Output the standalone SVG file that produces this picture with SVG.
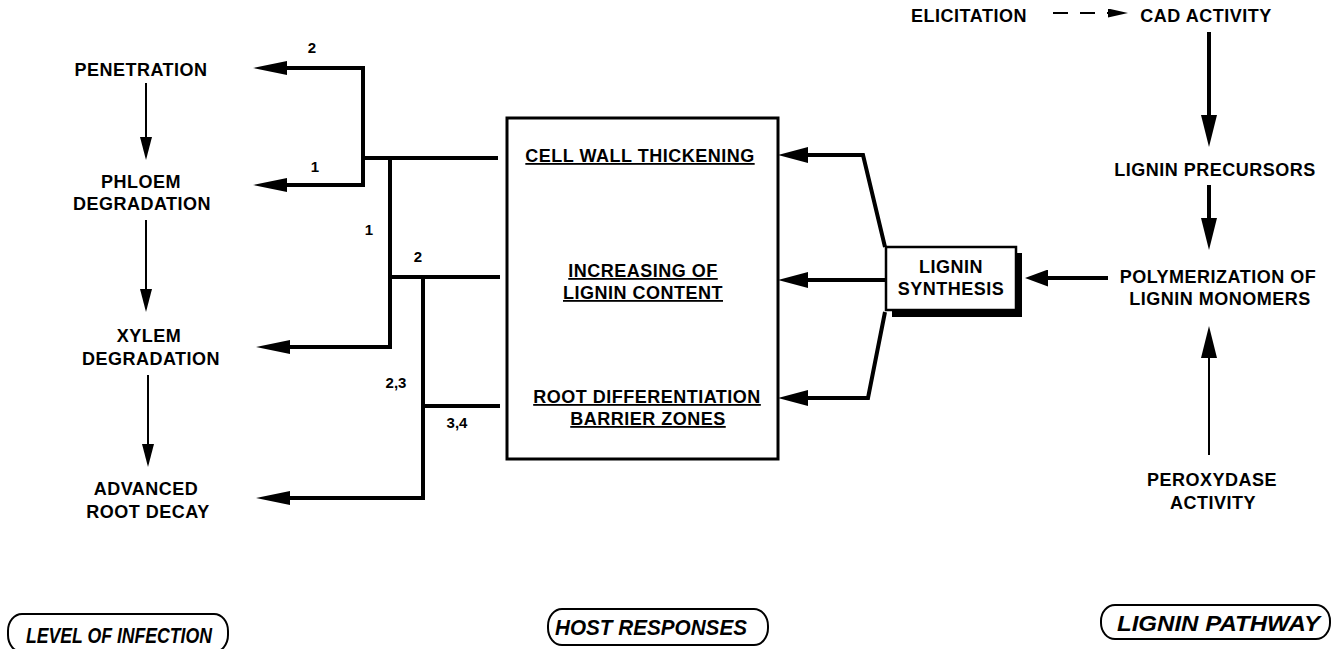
<svg xmlns="http://www.w3.org/2000/svg" width="1333" height="649" viewBox="0 0 1333 649">
<style>
  text { font-family: "Liberation Sans", Arial, Helvetica, sans-serif; font-weight: bold; fill: #000; }
  .lbl { font-size: 18px; letter-spacing: 0.5px; text-anchor: middle; }
  .num { font-size: 15px; text-anchor: middle; }
  .ul { text-decoration: underline; }
  .tag { font-size: 22px; font-style: italic; }
  .thick { fill: none; stroke: #000; stroke-width: 4; }
  .thin { fill: none; stroke: #000; stroke-width: 2; }
  .pill { fill: #fff; stroke: #000; stroke-width: 2; }
</style>
<defs>
  <marker id="ahL" markerUnits="userSpaceOnUse" viewBox="0 0 34 14" markerWidth="34" markerHeight="14" refX="0" refY="7" orient="auto-start-reverse">
    <path d="M0,0 L34,7 L0,14 Z" fill="#000"/>
  </marker>
  <marker id="ahR" markerUnits="userSpaceOnUse" viewBox="0 0 30 16" markerWidth="30" markerHeight="16" refX="0" refY="8" orient="auto">
    <path d="M0,0 L30,8 L0,16 Z" fill="#000"/>
  </marker>
  <marker id="ahM" markerUnits="userSpaceOnUse" viewBox="0 0 23 17" markerWidth="23" markerHeight="17" refX="0" refY="8.5" orient="auto">
    <path d="M0,0 L23,8.5 L0,17 Z" fill="#000"/>
  </marker>
  <marker id="ahV" markerUnits="userSpaceOnUse" viewBox="0 0 32 16" markerWidth="32" markerHeight="16" refX="0" refY="8" orient="auto">
    <path d="M0,0 L32,8 L0,16 Z" fill="#000"/>
  </marker>
  <marker id="ahT" markerUnits="userSpaceOnUse" viewBox="0 0 23 12" markerWidth="23" markerHeight="12" refX="0" refY="6" orient="auto">
    <path d="M0,0 L23,6 L0,12 Z" fill="#000"/>
  </marker>
  <marker id="ahD" markerUnits="userSpaceOnUse" viewBox="0 0 20 9" markerWidth="20" markerHeight="9" refX="0" refY="4.5" orient="auto">
    <path d="M0,0 L20,4.5 L0,9 Z" fill="#000"/>
  </marker>
</defs>
<rect width="1333" height="649" fill="#fff"/>

<!-- Level of infection -->
<g id="penetration"><text class="lbl" x="141" y="76">PENETRATION</text></g>
<g id="phloem"><text class="lbl" x="141" y="188">PHLOEM</text><text class="lbl" x="142" y="210">DEGRADATION</text></g>
<g id="xylem"><text class="lbl" x="149" y="342">XYLEM</text><text class="lbl" x="151" y="365">DEGRADATION</text></g>
<g id="advanced"><text class="lbl" x="146" y="495">ADVANCED</text><text class="lbl" x="148" y="518">ROOT DECAY</text></g>

<!-- Host responses -->
<g id="host-box">
  <rect x="507" y="118" width="271" height="341" fill="#fff" stroke="#000" stroke-width="3"/>
  <text class="lbl ul" x="640" y="162">CELL WALL THICKENING</text>
  <text class="lbl ul" x="643" y="277">INCREASING OF </text>
  <text class="lbl ul" x="643" y="299">LIGNIN CONTENT</text>
  <text class="lbl ul" x="647" y="403">ROOT DIFFERENTIATION</text>
  <text class="lbl ul" x="648" y="425">BARRIER ZONES</text>
</g>

<!-- Lignin synthesis -->
<g id="lignin-synthesis">
  <rect x="892" y="253" width="130" height="64" fill="#000"/>
  <rect x="886" y="247" width="130" height="63" fill="#fff" stroke="#000" stroke-width="2.5"/>
  <text class="lbl" x="951" y="273">LIGNIN</text>
  <text class="lbl" x="951" y="295">SYNTHESIS</text>
</g>

<!-- Lignin pathway -->
<g id="elicitation"><text class="lbl" x="969" y="22">ELICITATION</text></g>
<g id="cad"><text class="lbl" x="1206" y="22">CAD ACTIVITY</text></g>
<g id="precursors"><text class="lbl" x="1215" y="176">LIGNIN PRECURSORS</text></g>
<g id="polymerization"><text class="lbl" x="1218" y="283">POLYMERIZATION OF</text><text class="lbl" x="1220" y="305">LIGNIN MONOMERS</text></g>
<g id="peroxydase"><text class="lbl" x="1212" y="486">PEROXYDASE</text><text class="lbl" x="1213" y="509">ACTIVITY</text></g>

<!-- Connectors -->
<g id="connectors">
  <path class="thin" d="M146,83 V137" marker-end="url(#ahT)"/>
  <path class="thin" d="M146,220 V289" marker-end="url(#ahT)"/>
  <path class="thin" d="M148,375 V444" marker-end="url(#ahT)"/>

  <path class="thick" d="M287,68 H363 V185 H287" marker-start="url(#ahL)" marker-end="url(#ahL)"/>
  <path class="thick" d="M363,158 H498"/>
  <path class="thick" d="M390,158 V347 H290" marker-end="url(#ahL)"/>
  <path class="thick" d="M388,277 H500"/>
  <path class="thick" d="M423,277 V498 H290" marker-end="url(#ahL)"/>
  <path class="thick" d="M423,406 H500"/>

  <path class="thick" d="M885,247 L863,155 H808" marker-end="url(#ahR)"/>
  <path class="thick" d="M886,280 H808" marker-end="url(#ahR)"/>
  <path class="thick" d="M885,312 L868,398 H808" marker-end="url(#ahR)"/>
  <path class="thick" d="M1108,278 H1048" marker-end="url(#ahM)"/>

  <path class="thin" d="M1053,13 H1108" stroke-dasharray="15 12" marker-end="url(#ahD)"/>
  <path class="thick" d="M1209,32 V115" marker-end="url(#ahV)"/>
  <path class="thick" d="M1209,185 V218" marker-end="url(#ahV)"/>
  <path class="thin" stroke-width="2.5" d="M1209,455 V358" marker-end="url(#ahV)"/>

  <text class="num" x="312" y="53">2</text>
  <text class="num" x="315" y="172">1</text>
  <text class="num" x="369" y="235">1</text>
  <text class="num" x="418" y="262">2</text>
  <text class="num" x="396" y="388">2,3</text>
  <text class="num" x="457" y="428">3,4</text>
</g>

<!-- Section tags -->
<g id="tag-infection">
  <rect class="pill" x="8" y="614" width="220" height="38" rx="14" ry="17"/>
  <text class="tag" x="26" y="643" textLength="186" lengthAdjust="spacingAndGlyphs">LEVEL OF INFECTION</text>
</g>
<g id="tag-host">
  <rect class="pill" x="548" y="609" width="220" height="36" rx="14" ry="17"/>
  <text class="tag" x="555" y="635" textLength="192" lengthAdjust="spacingAndGlyphs">HOST RESPONSES</text>
</g>
<g id="tag-pathway">
  <rect class="pill" x="1101" y="605" width="229" height="34" rx="14" ry="16"/>
  <text class="tag" x="1117" y="631" textLength="203" lengthAdjust="spacingAndGlyphs">LIGNIN PATHWAY</text>
</g>
</svg>
